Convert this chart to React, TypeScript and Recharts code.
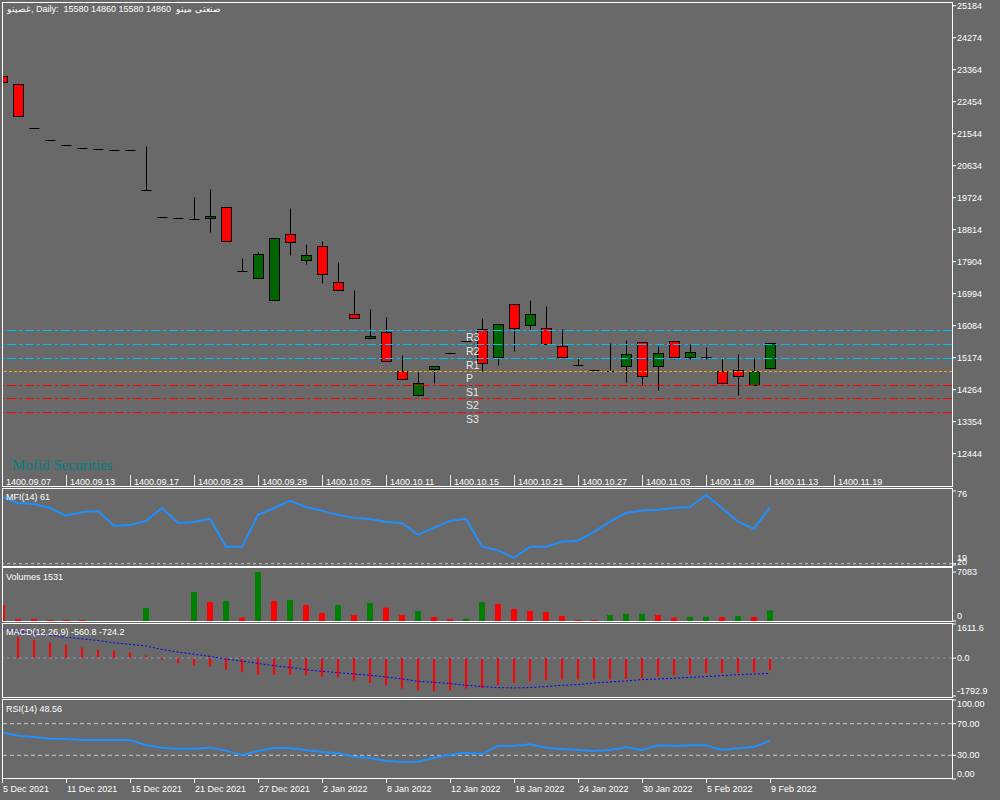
import React from 'react';
import { ComposedChart, Bar, Line, XAxis, YAxis, ReferenceLine, Cell } from 'recharts';

// daily bars, index 0 = 5 Dec 2021 (1400.09.07 ... )
const open = [23176, 22957, 21697, 21356, 21214, 21128, 21100, 21071, 21071, 19934, 19166, 19137, 19109, 19126, 19450, 17630, 17431, 16806, 18682, 17943, 18341, 17317, 16407, 15725, 15895, 14786, 14092, 14843, 15307, 15639, 15981, 15184, 16692, 16095, 16009, 15497, 14957, 14815, 14795, 14923, 15611, 14923, 15640, 15184, 15193, 14786, 14815, 14388, 14860];
const high = [23176, 22957, 21697, 21356, 21214, 21128, 21100, 21071, 21071, 21194, 19166, 19137, 19743, 19971, 19450, 18009, 18171, 18569, 19431, 18407, 18492, 17895, 17098, 16558, 16331, 15250, 14766, 14928, 15307, 15639, 16294, 16123, 16692, 16806, 16635, 15981, 15184, 14815, 15583, 15668, 15611, 15506, 15640, 15563, 15469, 15156, 15278, 15156, 15580];
const low = [23005, 22056, 21697, 21356, 21214, 21128, 21100, 21071, 21071, 19934, 19166, 19137, 19109, 18756, 18483, 17630, 17431, 16806, 18102, 17846, 17306, 17090, 16294, 15725, 15071, 14559, 14092, 14462, 15307, 15639, 14803, 14974, 15372, 15981, 15554, 15184, 14957, 14815, 14795, 14491, 14397, 14263, 15128, 15136, 15128, 14445, 14121, 14388, 14860];
const close = [23005, 22056, 21697, 21356, 21214, 21128, 21100, 21071, 21071, 19934, 19166, 19137, 19109, 19194, 18483, 17630, 18114, 18569, 18455, 18085, 17545, 17090, 16294, 15790, 15071, 14559, 14445, 14928, 15307, 15639, 15014, 16123, 15998, 16407, 15554, 15184, 14957, 14815, 14795, 15270, 14644, 15298, 15184, 15327, 15207, 14445, 14644, 14786, 15580];

const mfi = [71.4, 66.8, 66.0, 62.9, 57.0, 59.9, 60.6, 49.1, 49.9, 53.0, 62.9, 51.4, 52.2, 54.7, 33.0, 33.0, 57.6, 62.9, 68.5, 63.7, 60.9, 57.6, 55.3, 54.5, 52.2, 51.4, 42.2, 47.8, 53.0, 54.5, 33.3, 30.2, 24.6, 33.0, 33.0, 36.9, 37.7, 44.5, 52.4, 59.1, 60.9, 61.6, 62.9, 63.7, 72.9, 62.9, 52.4, 46.8, 63.7];
const volume = [2313, 289, 289, 145, 145, 145, 0, 0, 0, 1880, 0, 0, 4193, 2747, 2892, 477, 7083, 2892, 3036, 2313, 1157, 2313, 868, 2603, 1923, 868, 1446, 578, 289, 320, 2747, 2458, 1735, 1446, 1301, 723, 145, 145, 868, 1012, 1040, 868, 477, 578, 600, 578, 723, 578, 1531];
const macd = [1100, 987, 861, 736, 627, 501, 392, 345, 266, 125, -78, -235, -345, -407, -548, -673, -783, -783, -783, -815, -877, -924, -1065, -1175, -1285, -1441, -1535, -1567, -1520, -1441, -1410, -1285, -1175, -1097, -1050, -1018, -1018, -1018, -1018, -987, -971, -862, -815, -752, -705, -705, -705, -674, -560.8];
const signal = [1363, 1269, 1175, 1081, 987, 909, 830, 720, 650, 570, 407, 282, 188, 78, -47, -141, -251, -360, -439, -548, -627, -689, -752, -815, -893, -987, -1097, -1144, -1206, -1285, -1348, -1394, -1410, -1394, -1348, -1285, -1253, -1175, -1128, -1081, -1018, -987, -956, -909, -877, -830, -783, -752, -724.2];
const rsi = [59.1, 54.8, 53.2, 51.0, 50.6, 49.4, 49.4, 49.4, 49.4, 43.0, 39.7, 38.4, 38.4, 39.7, 35.9, 30.4, 35.4, 39.2, 39.2, 36.7, 34.2, 32.5, 28.3, 26.6, 22.8, 21.5, 21.9, 27.0, 30.8, 33.3, 31.6, 41.8, 41.8, 43.9, 39.7, 38.0, 36.7, 35.4, 36.7, 40.1, 36.7, 42.6, 41.8, 42.6, 42.6, 36.7, 38.8, 40.5, 48.56];

const persianDates = ['1400.09.07', '1400.09.13', '1400.09.17', '1400.09.23', '1400.09.29', '1400.10.05', '1400.10.11', '1400.10.15', '1400.10.21', '1400.10.27', '1400.11.03', '1400.11.09', '1400.11.13', '1400.11.19'];
const gregDates = ['5 Dec 2021', '11 Dec 2021', '15 Dec 2021', '21 Dec 2021', '27 Dec 2021', '2 Jan 2022', '8 Jan 2022', '12 Jan 2022', '18 Jan 2022', '24 Jan 2022', '30 Jan 2022', '5 Feb 2022', '9 Feb 2022'];
const priceTicks = [25184, 24274, 23364, 22454, 21544, 20634, 19724, 18814, 17904, 16994, 16084, 15174, 14264, 13354, 12444];
const pivots = [
  { name: 'R3', value: 15946, color: '#00bfff' },
  { name: 'R2', value: 15548, color: '#00bfff' },
  { name: 'R1', value: 15150, color: '#00bfff' },
  { name: 'P', value: 14780, color: '#ffa500' },
  { name: 'S1', value: 14382, color: '#ff0000' },
  { name: 'S2', value: 14012, color: '#ff0000' },
  { name: 'S3', value: 13614, color: '#ff0000' },
];

const rows = open.map((o, i) => ({
  i,
  open: o,
  high: high[i],
  low: low[i],
  close: close[i],
  mfi: mfi[i],
  volume: volume[i],
  macd: macd[i],
  signal: signal[i],
  rsi: rsi[i],
}));

const F = '"Liberation Sans", Arial, sans-serif';
const BG = '#696969';
const XMAX = 950 / 16; // 16px per bar across the 950px plot
const topTicks = persianDates.map((_, k) => k * 4);
const bottomTicks = gregDates.map((_, k) => k * 4);
const margin = { top: 0, right: 0, bottom: 0, left: 2 };

function makeTick(fmt: (v: number) => string, shift: Record<string, number> = {}) {
  return (props: any) => {
    const { x, y, payload } = props;
    const v = payload.value as number;
    return (
      <text x={x} y={y + (shift[String(v)] ?? 0)} fill="#fff" fontSize={9} fontFamily={F} dominantBaseline="central">
        {fmt(v)}
      </text>
    );
  };
}

const TopDateTick = (props: any) => {
  const { x, y, payload } = props;
  const lx = Math.round(x) + 0.5;
  return (
    <g>
      <line x1={lx} x2={lx} y1={y} y2={y + 11} stroke="#e6e6e6" />
      <text x={x + 4} y={y + 6.5} fill="#fff" fontSize={9} fontFamily={F} dominantBaseline="central">
        {persianDates[payload.value / 4]}
      </text>
    </g>
  );
};

const BottomDateTick = (props: any) => {
  const { x, y, payload } = props;
  const lx = Math.round(x) + 0.5;
  return (
    <g>
      <line x1={lx} x2={lx} y1={y} y2={y + 4} stroke="#fff" />
      <text x={x + 1} y={y + 9.5} fill="#fff" fontSize={9} fontFamily={F} dominantBaseline="central">
        {gregDates[payload.value / 4]}
      </text>
    </g>
  );
};

const PivotLabel = (props: any) => {
  const { viewBox, text } = props;
  if (!viewBox) return null;
  return (
    <text x={viewBox.x + 464} y={viewBox.y + 6.5} fill="#e8e8e8" fontSize={10.5} fontFamily={F} dominantBaseline="central">
      {text}
    </text>
  );
};

const Candle = (props: any) => {
  const { x, y, width, height, payload } = props;
  if (x == null || y == null || !payload) return null;
  const cx = Math.round(x + width / 2) + 0.5;
  const top = height >= 0 ? y : y + height;
  const h = Math.abs(height);
  const { open: o, high: hi, low: lo, close: c } = payload;
  const span = hi - lo;
  const k = span > 0 ? h / span : 0;
  const yOf = (v: number) => top + (hi - v) * k;
  const bTop = yOf(Math.max(o, c));
  const bBot = yOf(Math.min(o, c));
  const flat = bBot - bTop < 1.5;
  const r = (v: number) => Math.round(v) + 0.5;
  return (
    <g>
      {span > 0 && <line x1={cx} x2={cx} y1={r(top)} y2={r(top + h)} stroke="#000" />}
      {flat ? (
        <line x1={cx - 5} x2={cx + 5} y1={r(bTop)} y2={r(bTop)} stroke="#000" />
      ) : (
        <rect x={cx - 5} y={r(bTop)} width={10} height={Math.round(bBot - bTop)} fill={c > o ? '#006400' : '#ff0000'} stroke="#000" />
      )}
    </g>
  );
};

const abs = (top: number): React.CSSProperties => ({ position: 'absolute', left: 0, top });
const border = (top: number, height: number): React.CSSProperties => ({
  position: 'absolute',
  left: 2,
  top,
  width: 951,
  height,
  border: '1px solid #fff',
  boxSizing: 'border-box',
  pointerEvents: 'none',
});
const label = (top: number, left = 6): React.CSSProperties => ({
  position: 'absolute',
  left,
  top,
  color: '#fff',
  fontSize: 9,
  lineHeight: '10px',
  fontFamily: F,
  whiteSpace: 'pre',
});

export default function App() {
  return (
    <div style={{ position: 'absolute', left: 0, top: 0, width: 1000, height: 800, background: BG, overflow: 'hidden' }}>
      {/* price panel */}
      <div style={abs(0)}>
        <ComposedChart width={1000} height={486} data={rows} margin={{ ...margin, top: 2 }}>
          <XAxis dataKey="i" type="number" domain={[0, XMAX]} ticks={topTicks} interval={0} allowDataOverflow height={11} tickSize={0} tickMargin={0} axisLine={false} tick={TopDateTick} />
          <YAxis orientation="right" width={48} domain={[11837, 25289]} ticks={priceTicks} interval={0} allowDataOverflow axisLine={false} tickSize={4} tickMargin={1} tickLine={{ stroke: '#fff' }} tick={makeTick((v) => String(v))} />
          {pivots.map((p) => (
            <ReferenceLine key={p.name} y={p.value} stroke={p.color} strokeDasharray={p.name === 'P' ? '3 2' : '9 3 3 3'} label={<PivotLabel text={p.name} />} />
          ))}
          <Bar dataKey={(d: any) => [d.low, d.high]} barSize={10} shape={Candle} isAnimationActive={false} />
        </ComposedChart>
      </div>

      {/* MFI */}
      <div style={abs(488)}>
        <ComposedChart width={1000} height={78} data={rows} margin={{ ...margin, top: 3, bottom: 1 }}>
          <XAxis dataKey="i" type="number" domain={[0, XMAX]} hide allowDataOverflow />
          <YAxis orientation="right" width={48} domain={[19, 76]} ticks={[19, 20, 76]} interval={0} allowDataOverflow axisLine={false} tickSize={4} tickMargin={1} tickLine={{ stroke: '#fff' }} tick={makeTick((v) => String(v), { '19': -7, '20': -2, '76': 3 })} />
          <ReferenceLine y={20} stroke="#c8c8c8" strokeDasharray="3 3" />
          <Line dataKey="mfi" type="linear" stroke="#1e90ff" strokeWidth={2} dot={false} isAnimationActive={false} />
        </ComposedChart>
      </div>

      {/* Volumes */}
      <div style={abs(567)}>
        <ComposedChart width={1000} height={55} data={rows} margin={{ ...margin, top: 5, bottom: 1 }}>
          <XAxis dataKey="i" type="number" domain={[0, XMAX]} hide allowDataOverflow />
          <YAxis orientation="right" width={48} domain={[0, 7083]} ticks={[0, 7083]} interval={0} allowDataOverflow axisLine={false} tickSize={4} tickMargin={1} tickLine={{ stroke: '#fff' }} tick={makeTick((v) => String(v), { '0': -5 })} />
          <Bar dataKey="volume" barSize={6} isAnimationActive={false}>
            {rows.map((r, i) => (
              <Cell key={i} fill={i > 0 && r.volume > volume[i - 1] ? '#008000' : '#ff0000'} />
            ))}
          </Bar>
        </ComposedChart>
      </div>

      {/* MACD */}
      <div style={abs(623)}>
        <ComposedChart width={1000} height={74} data={rows} margin={{ ...margin, top: 1, bottom: 1 }}>
          <XAxis dataKey="i" type="number" domain={[0, XMAX]} hide allowDataOverflow />
          <YAxis orientation="right" width={48} domain={[-1792.9, 1611.6]} ticks={[-1792.9, 0, 1611.6]} interval={0} allowDataOverflow axisLine={false} tickSize={4} tickMargin={1} tickLine={{ stroke: '#fff' }} tick={makeTick((v) => v.toFixed(1), { '1611.6': 4, '-1792.9': -5 })} />
          <ReferenceLine y={0} stroke="#8a9ab0" strokeDasharray="3 3" />
          <Bar dataKey="macd" barSize={2} fill="#ff0000" isAnimationActive={false} />
          <Line dataKey="signal" type="linear" stroke="#0000ff" strokeWidth={1} strokeDasharray="2 2" dot={false} isAnimationActive={false} />
        </ComposedChart>
      </div>

      {/* RSI + date axis */}
      <div style={abs(699)}>
        <ComposedChart width={1000} height={101} data={rows} margin={{ ...margin, top: 1 }}>
          <XAxis dataKey="i" type="number" domain={[0, XMAX]} ticks={bottomTicks} interval={0} allowDataOverflow height={21} tickSize={0} tickMargin={0} axisLine={false} tick={BottomDateTick} />
          <YAxis orientation="right" width={48} domain={[0, 100]} ticks={[0, 30, 70, 100]} interval={0} allowDataOverflow axisLine={false} tickSize={4} tickMargin={1} tickLine={{ stroke: '#fff' }} tick={makeTick((v) => v.toFixed(2), { '100': 4, '0': -5.5 })} />
          <ReferenceLine y={70} stroke="#c8c8c8" strokeDasharray="4 3" />
          <ReferenceLine y={30} stroke="#c8c8c8" strokeDasharray="4 3" />
          <Line dataKey="rsi" type="linear" stroke="#1e90ff" strokeWidth={2} dot={false} isAnimationActive={false} />
        </ComposedChart>
      </div>

      {/* panel frames */}
      <div style={border(2, 485)} />
      <div style={border(488, 79)} />
      <div style={border(567, 55)} />
      <div style={border(623, 75)} />
      <div style={border(699, 80)} />

      {/* texts */}
      <div style={label(4, 7)} dir="ltr">{'غصینو, Daily:  15580 14860 15580 14860  صنعتی مینو'}</div>
      <div style={{ position: 'absolute', left: 12, top: 458, color: '#008080', fontSize: 15, lineHeight: '15px', fontFamily: '"Liberation Serif", "Times New Roman", serif', whiteSpace: 'pre' }}>
        Mofid Securities
      </div>
      <div style={label(492)}>MFI(14) 61</div>
      <div style={label(572)}>Volumes 1531</div>
      <div style={label(627)}>MACD(12,26,9) -560.8 -724.2</div>
      <div style={label(704)}>RSI(14) 48.56</div>
    </div>
  );
}
